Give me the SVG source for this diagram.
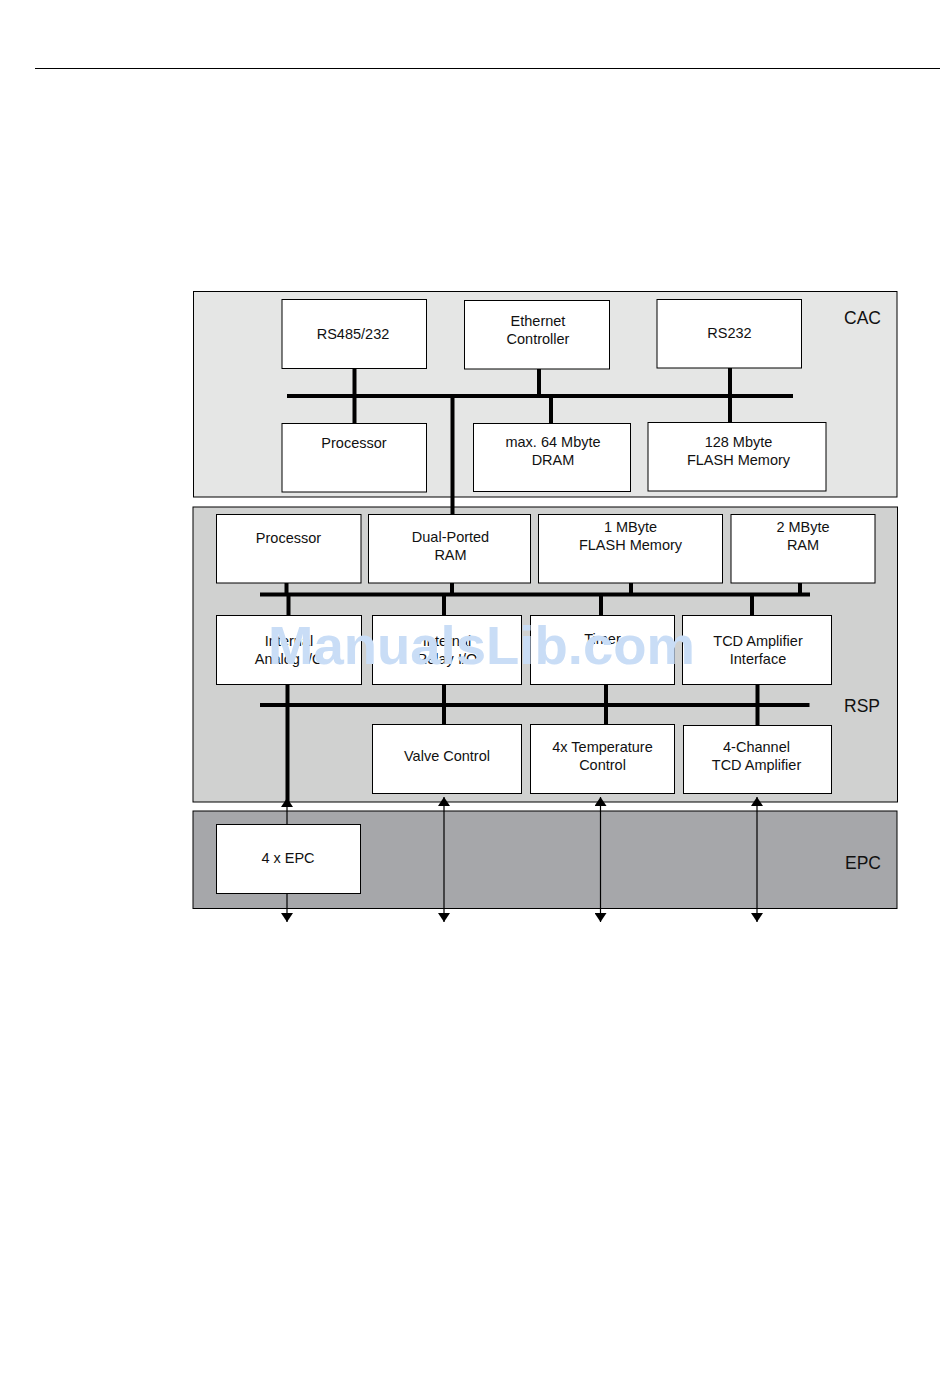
<svg xmlns="http://www.w3.org/2000/svg" width="950" height="1397" viewBox="0 0 950 1397">
<style>
  .bg{fill:#ffffff}
  .cac{fill:#e5e6e5;stroke:#000;stroke-width:1}
  .rsp{fill:#d0d1d0;stroke:#000;stroke-width:1}
  .epc{fill:#a6a7aa;stroke:#000;stroke-width:1}
  .box{fill:#ffffff;stroke:#000;stroke-width:1}
  .t{font-family:"Liberation Sans",Arial,sans-serif;font-size:14.5px;fill:#111;text-anchor:middle}
  .lbl{font-family:"Liberation Sans",Arial,sans-serif;font-size:17.5px;fill:#111}
  .bus{stroke:#000;stroke-width:4;fill:none}
  .sig{stroke:#000;stroke-width:1.2;fill:none}
  .wm{font-family:"Liberation Sans",Arial,sans-serif;font-weight:bold;font-size:54.5px;fill:#c9ddf6}
</style>
<defs>
  <marker id="ah" markerUnits="userSpaceOnUse" markerWidth="10" markerHeight="12" refX="9" refY="6" orient="auto-start-reverse">
    <path d="M0,0 L9,6 L0,12 z" fill="#000"/>
  </marker>
</defs>
<rect class="bg" x="0" y="0" width="950" height="1397"/>
<line x1="35" y1="68.5" x2="940" y2="68.5" stroke="#000" stroke-width="1"/>

<g id="containers">
  <g id="cac">
    <rect class="cac" x="193.5" y="291.5" width="703.5" height="205.5"/>
    <text class="lbl" x="844" y="323.5">CAC</text>
  </g>
  <g id="rsp">
    <rect class="rsp" x="193" y="507" width="704.5" height="295"/>
    <text class="lbl" x="844" y="712">RSP</text>
  </g>
  <g id="epc">
    <rect class="epc" x="193" y="811" width="704" height="97.5"/>
    <text class="lbl" x="845" y="868.5">EPC</text>
  </g>
</g>

<g id="connectors">
  <!-- CAC bus -->
  <line class="bus" x1="287" y1="396" x2="793" y2="396"/>
  <line class="bus" x1="354.5" y1="368" x2="354.5" y2="423"/>
  <line class="bus" x1="539" y1="369" x2="539" y2="396"/>
  <line class="bus" x1="551" y1="396" x2="551" y2="423"/>
  <line class="bus" x1="730" y1="368" x2="730" y2="422"/>
  <line class="bus" x1="452.5" y1="396" x2="452.5" y2="514"/>
  <!-- RSP bus 1 -->
  <line class="bus" x1="260" y1="594.5" x2="810" y2="594.5"/>
  <line class="bus" x1="286.5" y1="583" x2="286.5" y2="594"/>
  <line class="bus" x1="452" y1="583" x2="452" y2="594"/>
  <line class="bus" x1="631" y1="583" x2="631" y2="594"/>
  <line class="bus" x1="800" y1="583" x2="800" y2="594"/>
  <line class="bus" x1="288.5" y1="594" x2="288.5" y2="615"/>
  <line class="bus" x1="444" y1="594" x2="444" y2="615"/>
  <line class="bus" x1="601" y1="594" x2="601" y2="615"/>
  <line class="bus" x1="752" y1="594" x2="752" y2="615"/>
  <!-- RSP bus 2 -->
  <line class="bus" x1="260" y1="705" x2="809.5" y2="705"/>
  <line class="bus" x1="287.5" y1="684" x2="287.5" y2="803"/>
  <line class="bus" x1="444" y1="684" x2="444" y2="724"/>
  <line class="bus" x1="606" y1="684" x2="606" y2="724"/>
  <line class="bus" x1="757.5" y1="684" x2="757.5" y2="725"/>
  <!-- external signals -->
  <line class="sig" x1="287" y1="798" x2="287" y2="922" marker-start="url(#ah)" marker-end="url(#ah)"/>
  <line class="sig" x1="444" y1="797" x2="444" y2="922" marker-start="url(#ah)" marker-end="url(#ah)"/>
  <line class="sig" x1="600.5" y1="797" x2="600.5" y2="922" marker-start="url(#ah)" marker-end="url(#ah)"/>
  <line class="sig" x1="757" y1="797" x2="757" y2="922" marker-start="url(#ah)" marker-end="url(#ah)"/>
</g>

<g id="n-rs485">
  <rect class="box" x="282" y="299.5" width="144.5" height="69"/>
  <text class="t" x="353" y="339">RS485/232</text>
</g>
<g id="n-ethernet">
  <rect class="box" x="464.5" y="300.5" width="145" height="68.5"/>
  <text class="t" x="538" y="326">Ethernet</text>
  <text class="t" x="538" y="343.5">Controller</text>
</g>
<g id="n-rs232">
  <rect class="box" x="657" y="299.5" width="144.5" height="68.5"/>
  <text class="t" x="729.5" y="337.5">RS232</text>
</g>
<g id="n-cac-processor">
  <rect class="box" x="282" y="423.5" width="144.5" height="68.5"/>
  <text class="t" x="354" y="448">Processor</text>
</g>
<g id="n-dram">
  <rect class="box" x="473.5" y="423.5" width="157" height="68"/>
  <text class="t" x="553" y="447">max. 64 Mbyte</text>
  <text class="t" x="553" y="465">DRAM</text>
</g>
<g id="n-cac-flash">
  <rect class="box" x="648" y="422.5" width="178" height="68.5"/>
  <text class="t" x="738.5" y="447">128 Mbyte</text>
  <text class="t" x="738.5" y="465">FLASH Memory</text>
</g>

<g id="n-rsp-processor">
  <rect class="box" x="216.5" y="514.5" width="144.5" height="68.5"/>
  <text class="t" x="288.5" y="543">Processor</text>
</g>
<g id="n-dpram">
  <rect class="box" x="368.5" y="514.5" width="162" height="68.5"/>
  <text class="t" x="450.5" y="542">Dual-Ported</text>
  <text class="t" x="450.5" y="560">RAM</text>
</g>
<g id="n-rsp-flash">
  <rect class="box" x="538.5" y="514.5" width="184" height="68.5"/>
  <text class="t" x="630.5" y="532">1 MByte</text>
  <text class="t" x="630.5" y="550">FLASH Memory</text>
</g>
<g id="n-rsp-ram">
  <rect class="box" x="731" y="514.5" width="144" height="68.5"/>
  <text class="t" x="803" y="532">2 MByte</text>
  <text class="t" x="803" y="550">RAM</text>
</g>

<g id="n-analog">
  <rect class="box" x="216.5" y="615.5" width="145" height="69"/>
  <text class="t" x="289" y="646">Internal</text>
  <text class="t" x="289" y="663.5">Analog I/O</text>
</g>
<g id="n-relay">
  <rect class="box" x="372.5" y="615.5" width="149" height="69"/>
  <text class="t" x="447" y="646">Internal</text>
  <text class="t" x="447" y="663.5">Relay I/O</text>
</g>
<g id="n-timer">
  <rect class="box" x="530.5" y="615.5" width="144" height="69"/>
  <text class="t" x="602.5" y="644">Timer</text>
</g>
<g id="n-tcd-if">
  <rect class="box" x="682.5" y="615.5" width="149" height="69"/>
  <text class="t" x="758" y="645.5">TCD Amplifier</text>
  <text class="t" x="758" y="663.5">Interface</text>
</g>

<g id="n-valve">
  <rect class="box" x="372.5" y="724.5" width="149" height="69"/>
  <text class="t" x="447" y="761">Valve Control</text>
</g>
<g id="n-temp">
  <rect class="box" x="530.5" y="724.5" width="144" height="69"/>
  <text class="t" x="602.5" y="752">4x Temperature</text>
  <text class="t" x="602.5" y="770">Control</text>
</g>
<g id="n-tcd-amp">
  <rect class="box" x="683.5" y="725.5" width="148" height="68"/>
  <text class="t" x="756.5" y="752">4-Channel</text>
  <text class="t" x="756.5" y="770">TCD Amplifier</text>
</g>

<g id="n-4epc">
  <rect class="box" x="216.5" y="824.5" width="144" height="69"/>
  <text class="t" x="288" y="863">4 x EPC</text>
</g>

<text class="wm" x="268" y="663.5">ManualsLib.com</text>
</svg>
